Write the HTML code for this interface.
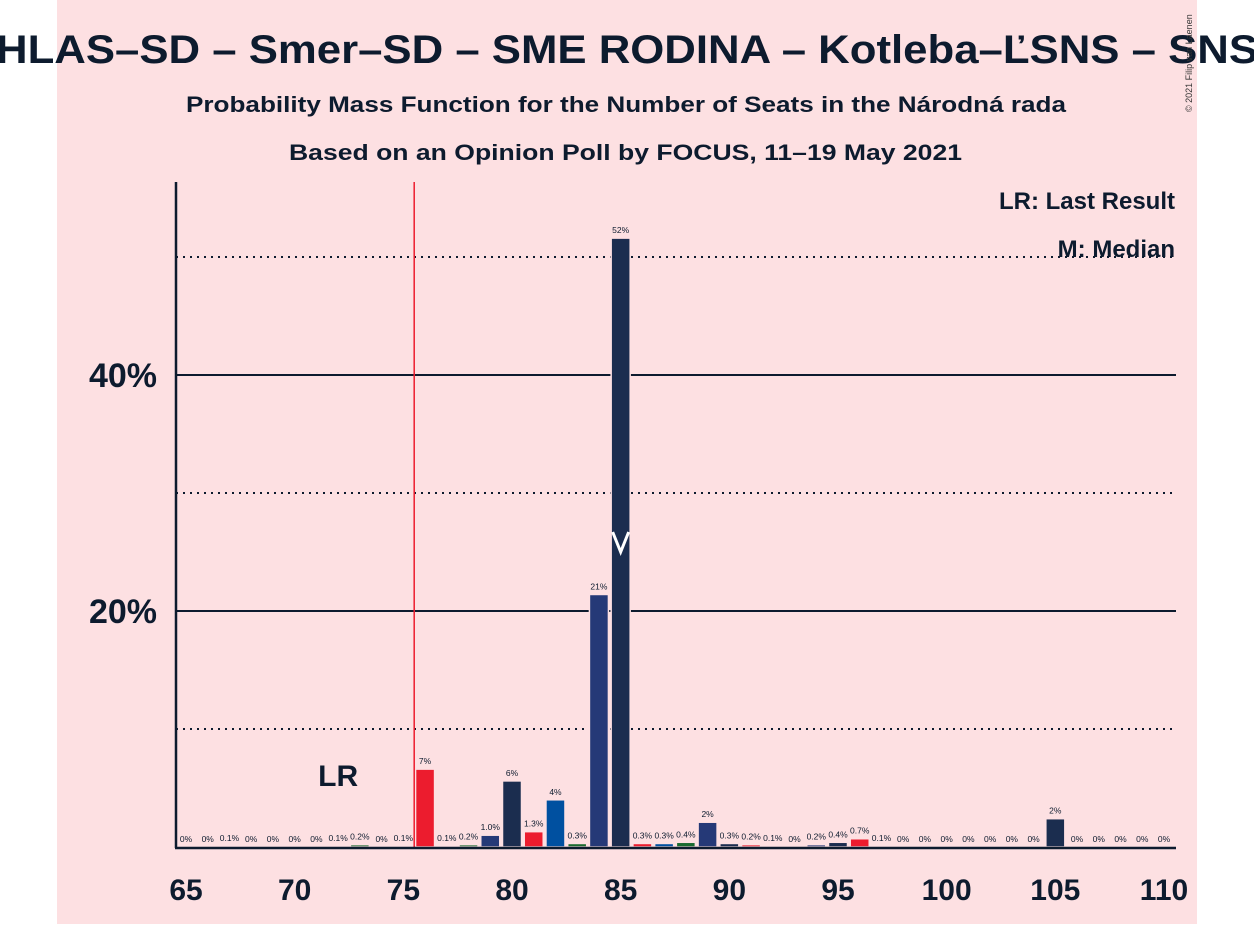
<!DOCTYPE html>
<html><head><meta charset="utf-8">
<style>
html,body{margin:0;padding:0;background:#fff;}
body{width:1254px;height:924px;overflow:hidden;position:relative;font-family:"Liberation Sans",sans-serif;}
</style></head>
<body>
<svg width="1254" height="924" viewBox="0 0 1254 924" xmlns="http://www.w3.org/2000/svg">
<rect x="57" y="0" width="1140" height="924" fill="#fde0e2"/>
<text x="-4" y="63" textLength="1262" lengthAdjust="spacingAndGlyphs" font-size="40" font-weight="bold" fill="#0d1b2e">HLAS–SD – Smer–SD – SME RODINA – Kotleba–ĽSNS – SNS</text>
<text x="186" y="112" textLength="880" lengthAdjust="spacingAndGlyphs" font-size="22" font-weight="bold" fill="#0d1b2e">Probability Mass Function for the Number of Seats in the Národná rada</text>
<text x="289" y="160" textLength="673" lengthAdjust="spacingAndGlyphs" font-size="22" font-weight="bold" fill="#0d1b2e">Based on an Opinion Poll by FOCUS, 11–19 May 2021</text>
<text x="1192" y="112" font-size="9" fill="#333" transform="rotate(-90 1192 112)">© 2021 Filip van Laenen</text>
<g id="grid"></g>
<g id="bars"></g>
<g id="labels"></g>
<g id="axes"></g>
<text x="1175" y="209" text-anchor="end" font-size="24" font-weight="bold" fill="#0d1b2e">LR: Last Result</text>
<text x="1175" y="257" text-anchor="end" font-size="24" font-weight="bold" fill="#0d1b2e">M: Median</text>
</svg>
<script>
const seats=[65,66,67,68,69,70,71,72,73,74,75,76,77,78,79,80,81,82,83,84,85,86,87,88,89,90,91,92,93,94,95,96,97,98,99,100,101,102,103,104,105,106,107,108,109,110];
const probs=[0,0,0.1,0,0,0,0,0.1,0.2,0,0.1,6.6,0.1,0.2,1.0,5.6,1.3,4.0,0.3,21.4,51.6,0.3,0.3,0.4,2.1,0.3,0.2,0.1,0,0.2,0.4,0.7,0.1,0,0,0,0,0,0,0,2.4,0,0,0,0,0];
const valueLabels=["0%","0%","0.1%","0%","0%","0%","0%","0.1%","0.2%","0%","0.1%","7%","0.1%","0.2%","1.0%","6%","1.3%","4%","0.3%","21%","52%","0.3%","0.3%","0.4%","2%","0.3%","0.2%","0.1%","0%","0.2%","0.4%","0.7%","0.1%","0%","0%","0%","0%","0%","0%","0%","2%","0%","0%","0%","0%","0%"];
const xTicks=[65,70,75,80,85,90,95,100,105,110];
const yTicks=[20,40];
const dottedTicks=[10,30,50];
const lastResult=72;
const median=85;
const majority=76;
const palette=["#1b2d4f","#ec1c2e","#0050a0","#1a6b30","#253977"];
const NS="http://www.w3.org/2000/svg";
const x0=186,dx=(1164-186)/45,y0=847,dy=11.8;
const X=s=>x0+(s-65)*dx, Y=p=>y0-p*dy;
function mk(t,a,parent){const e=document.createElementNS(NS,t);for(const k in a)e.setAttribute(k,a[k]);document.getElementById(parent).appendChild(e);return e;}
dottedTicks.forEach(v=>{const l=mk('line',{x1:176,x2:1176,y1:Y(v),y2:Y(v),stroke:'#0d1b2e','stroke-width':2,'stroke-dasharray':'2,5'},'grid');

});
yTicks.forEach(v=>{const l=mk('line',{x1:176,x2:1176,y1:Y(v),y2:Y(v),stroke:'#0d1b2e','stroke-width':2},'grid');


const t=mk('text',{x:157,y:Y(v)+12,'text-anchor':'end','font-size':34,'font-weight':'bold',fill:'#0d1b2e'},'axes');t.textContent=v+'%';

});
seats.forEach((s,i)=>{const p=probs[i];const h=p*dy;
if(h>0){const r=mk('rect',{x:X(s)-9.5,y:Y(p),width:19,height:h,fill:palette[s%5],stroke:'#fde0e2','stroke-width':1.5},'bars');

}
const t=mk('text',{x:X(s),y:Y(p)-5,'text-anchor':'middle','font-size':8.5,fill:'#0d1b2e'},'labels');t.textContent=valueLabels[i];

});
xTicks.forEach(s=>{const t=mk('text',{x:X(s),y:900,'text-anchor':'middle','font-size':30,'font-weight':'bold',fill:'#0d1b2e'},'axes');t.textContent=s;

});
const ml=mk('line',{x1:X(majority)-dx/2,x2:X(majority)-dx/2,y1:182,y2:847,stroke:'#ec1c2e','stroke-width':1.5},'axes');


const lr=mk('text',{x:X(lastResult),y:786,'text-anchor':'middle','font-size':30,'font-weight':'bold',fill:'#0d1b2e'},'axes');lr.textContent='LR';


const mx=X(median);
const mm=mk('polyline',{points:`${mx-8},${532} ${mx},${552} ${mx+8},${532}`,fill:'none',stroke:'#fff','stroke-width':3},'axes');


const ya=mk('line',{x1:176,x2:176,y1:182,y2:848,stroke:'#0d1b2e','stroke-width':2.5},'axes');


const xa=mk('line',{x1:175,x2:1176,y1:848,y2:848,stroke:'#0d1b2e','stroke-width':2.5},'axes');


</script>
</body></html>
